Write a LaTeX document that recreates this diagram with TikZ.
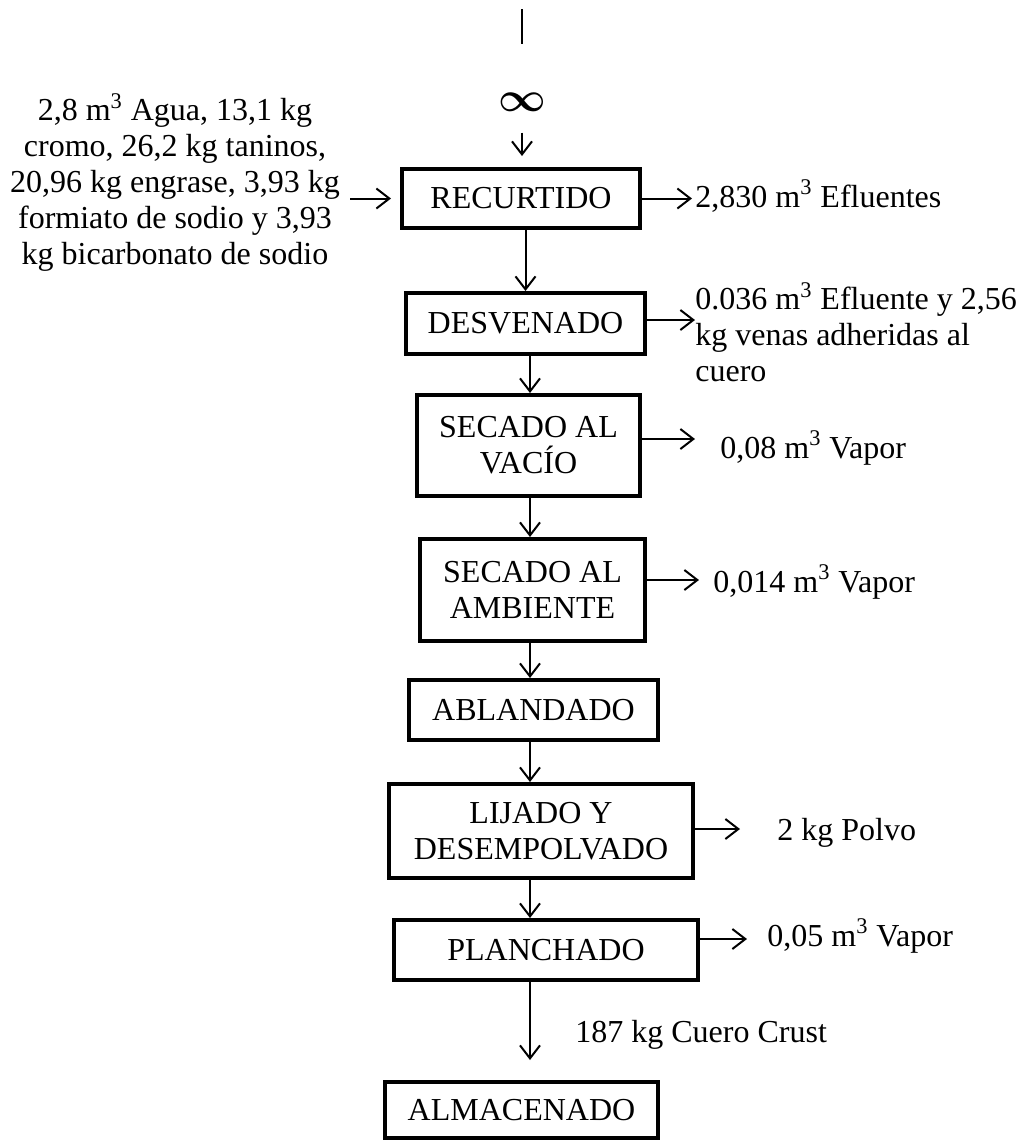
\documentclass[tikz,border=0pt]{standalone}
\usepackage{amsmath}
\usepackage{fontspec}
\setmainfont{Liberation Serif}
\usetikzlibrary{arrows,arrows.meta,positioning}
\tikzset{font=\fontsize{16}{18}\selectfont}
\tikzset{every node/.append style={inner sep=0pt}}

\begin{document}
\begin{tikzpicture}[x=0.5pt,y=-0.5pt,
  proc/.style={draw,line width=2pt,align=center},
  flow/.style={line width=1pt,-{Straight Barb[length=6.5pt,width=10pt]}}]
\useasboundingbox (0,0) rectangle (1030,1142);
\coordinate (spine) at (530,0);
\coordinate (feedtop) at (522,9);
\coordinate (feedbot) at (522,44);
\node[font=\fontsize{22}{22}\selectfont] (inf) at (522,102) {$\boldsymbol{\infty}$};
% etapas
\node[proc,minimum width=119pt,minimum height=29.5pt] (rec) at (521,198.5) {RECURTIDO};
\node[proc,minimum width=119.5pt,minimum height=30.5pt] (desv) at (525.5,323.5) {DESVENADO};
\node[proc,minimum width=111.5pt,minimum height=50.5pt] (vac) at (528.5,445.5) {SECADO AL\\VACÍO};
\node[proc,minimum width=112.5pt,minimum height=51pt] (amb) at (532.5,590) {SECADO AL\\AMBIENTE};
\node[proc,minimum width=124.5pt,minimum height=30pt] (abl) at (533.5,710) {ABLANDADO};
\node[proc,minimum width=152pt,minimum height=47pt] (lij) at (541,831) {LIJADO Y\\DESEMPOLVADO};
\node[proc,minimum width=152pt,minimum height=30pt] (plan) at (546,950) {PLANCHADO};
\node[proc,minimum width=136.5pt,minimum height=28pt] (alm) at (521.5,1110) {ALMACENADO};
% entradas y salidas
\node[align=center,anchor=north] (inp) at (175,93) {2,8 m\textsuperscript{3} Agua, 13,1 kg\\cromo, 26,2 kg taninos,\\20,96 kg engrase, 3,93 kg\\formiato de sodio y 3,93\\kg bicarbonato de sodio};
\node[anchor=base west] (out1) at (695,207) {2,830 m\textsuperscript{3} Efluentes};
\node[anchor=north west,align=left] (out2) at (695,282) {0.036 m\textsuperscript{3} Efluente y 2,56\\kg venas adheridas al\\cuero};
\node[anchor=base west] (out3) at (720,458) {0,08 m\textsuperscript{3} Vapor};
\node[anchor=base west] (out4) at (713,592) {0,014 m\textsuperscript{3} Vapor};
\node[anchor=base west] (out6) at (777,840) {2 kg Polvo};
\node[anchor=base west] (out7) at (767,946) {0,05 m\textsuperscript{3} Vapor};
\node[anchor=base west] (crust) at (575,1042) {187 kg Cuero Crust};
% flechas
\draw[line width=1pt] (feedtop) -- (feedbot);
\draw[flow,shorten <=10.5pt,shorten >=5.5pt] (inf.south) -- (rec.north -| inf);
\draw[flow,shorten <=5pt,shorten >=4.5pt] (inp.east |- rec.west) -- (rec.west);
\draw[flow] (rec.south -| desv) -- (desv.north);
\draw[flow] (desv.south -| spine) -- (vac.north -| spine);
\draw[flow] (vac.south -| spine) -- (amb.north -| spine);
\draw[flow] (amb.south -| spine) -- (abl.north -| spine);
\draw[flow] (abl.south -| spine) -- (lij.north -| spine);
\draw[flow] (lij.south -| spine) -- (plan.north -| spine);
\draw[flow,shorten >=10pt] (plan.south -| spine) -- (alm.north -| spine);
\draw[flow] (rec.east) -- ++(50,0);
\draw[flow] ([yshift=1.75pt]desv.east) -- ++(48,0);
\draw[flow] ([yshift=3.25pt]vac.east) -- ++(53,0);
\draw[flow] ([yshift=5pt]amb.east) -- ++(52,0);
\draw[flow] ([yshift=1pt]lij.east) -- ++(45,0);
\draw[flow] ([yshift=5.5pt]plan.east) -- ++(47,0);
\end{tikzpicture}
\end{document}
